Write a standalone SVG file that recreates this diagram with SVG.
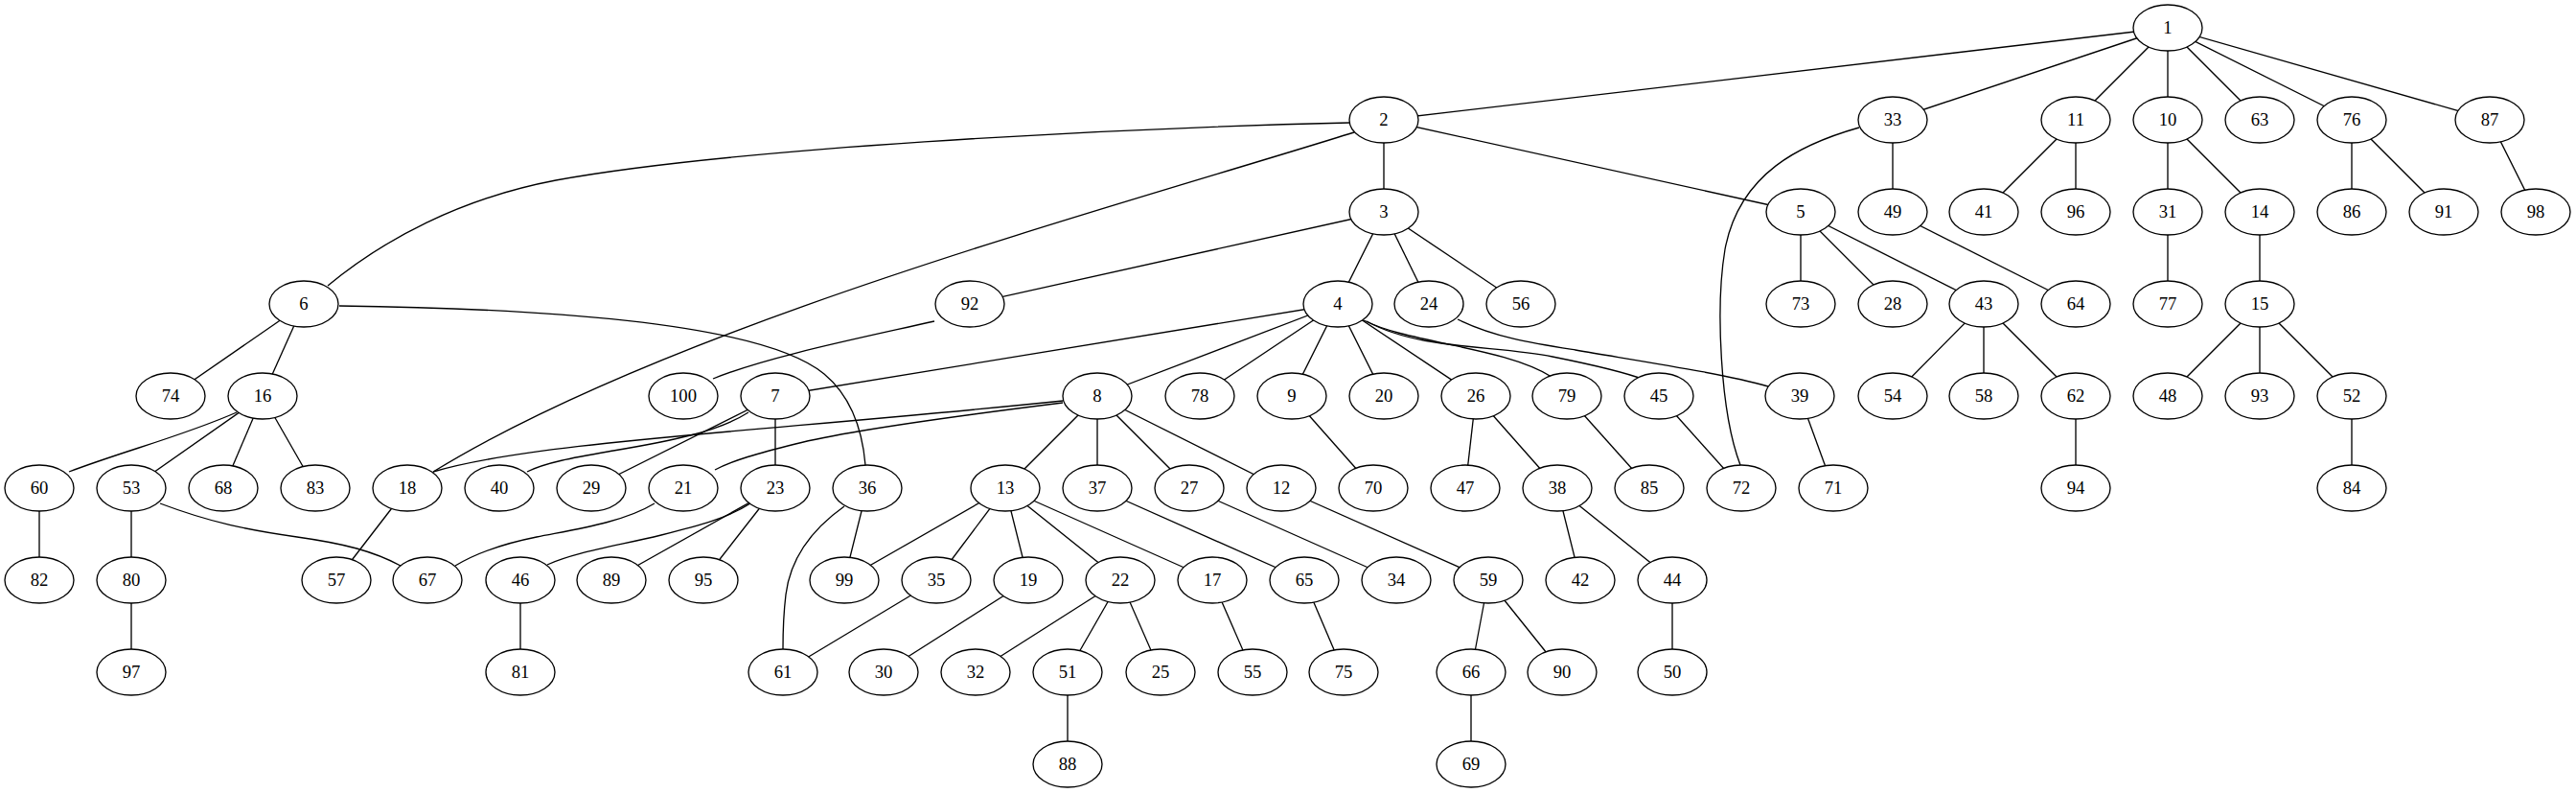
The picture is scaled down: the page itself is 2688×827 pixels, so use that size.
<svg xmlns="http://www.w3.org/2000/svg" width="2688" height="827" viewBox="0 0 2688 827">
<style>
.e path, .e line { fill: none; stroke: #000; stroke-width: 1.33; }
.n ellipse { fill: #fff; stroke: #000; stroke-width: 1.33; }
.n text { font-family: "Liberation Serif", "Times New Roman", serif; font-size: 18.67px; text-anchor: middle; fill: #000; }
</style>
<rect width="2688" height="827" fill="#fff"/>
<g id="edges" class="e">
<line x1="2262" y1="29" x2="1444" y2="125"/>
<line x1="2262" y1="29" x2="1975" y2="125"/>
<line x1="2262" y1="29" x2="2166" y2="125"/>
<line x1="2262" y1="29" x2="2262" y2="125"/>
<line x1="2262" y1="29" x2="2358" y2="125"/>
<line x1="2262" y1="29" x2="2454" y2="125"/>
<line x1="2262" y1="29" x2="2598" y2="125"/>
<line x1="1444" y1="125" x2="1444" y2="221"/>
<line x1="1444" y1="125" x2="1879" y2="221"/>
<path d="M1408,128 C1150,134 760,155 580,188 C480,207 400,250 342,298"/>
<path d="M1413,138 C1150,220 700,340 452,492"/>
<line x1="1444" y1="221" x2="1012" y2="317"/>
<line x1="1444" y1="221" x2="1396" y2="317"/>
<line x1="1444" y1="221" x2="1491" y2="317"/>
<line x1="1444" y1="221" x2="1587" y2="317"/>
<line x1="1396" y1="317" x2="809" y2="413"/>
<line x1="1396" y1="317" x2="1145" y2="413"/>
<line x1="1396" y1="317" x2="1252" y2="413"/>
<line x1="1396" y1="317" x2="1348" y2="413"/>
<line x1="1396" y1="317" x2="1444" y2="413"/>
<line x1="1396" y1="317" x2="1540" y2="413"/>
<path d="M1423,334 C1470,358 1570,362 1619,393"/>
<path d="M1426,335 C1480,365 1560,360 1620,372 C1670,382 1700,390 1716,396"/>
<line x1="1879" y1="221" x2="1879" y2="317"/>
<line x1="1879" y1="221" x2="1975" y2="317"/>
<line x1="1879" y1="221" x2="2070" y2="317"/>
<line x1="317" y1="317" x2="178" y2="413"/>
<line x1="317" y1="317" x2="274" y2="413"/>
<path d="M354,319 C600,322 800,340 860,390 C890,415 900,450 903,485"/>
<path d="M781,430 C750,450 700,460 640,470 C600,477 570,482 550,492"/>
<line x1="809" y1="413" x2="617" y2="509"/>
<line x1="809" y1="413" x2="809" y2="509"/>
<path d="M1109,418 C800,450 560,460 452,492"/>
<path d="M1109,420 C980,436 880,450 830,463 C790,473 765,480 746,490"/>
<line x1="1145" y1="413" x2="1049" y2="509"/>
<line x1="1145" y1="413" x2="1145" y2="509"/>
<line x1="1145" y1="413" x2="1241" y2="509"/>
<line x1="1145" y1="413" x2="1337" y2="509"/>
<line x1="1348" y1="413" x2="1433" y2="509"/>
<line x1="2262" y1="125" x2="2262" y2="221"/>
<line x1="2262" y1="125" x2="2358" y2="221"/>
<line x1="2166" y1="125" x2="2070" y2="221"/>
<line x1="2166" y1="125" x2="2166" y2="221"/>
<line x1="1049" y1="509" x2="881" y2="605"/>
<line x1="1049" y1="509" x2="977" y2="605"/>
<line x1="1049" y1="509" x2="1073" y2="605"/>
<line x1="1049" y1="509" x2="1169" y2="605"/>
<line x1="1049" y1="509" x2="1265" y2="605"/>
<line x1="2358" y1="221" x2="2358" y2="317"/>
<line x1="2358" y1="317" x2="2262" y2="413"/>
<line x1="2358" y1="317" x2="2358" y2="413"/>
<line x1="2358" y1="317" x2="2454" y2="413"/>
<path d="M247,430 C190,455 130,470 72,492"/>
<line x1="274" y1="413" x2="137" y2="509"/>
<line x1="274" y1="413" x2="233" y2="509"/>
<line x1="274" y1="413" x2="329" y2="509"/>
<line x1="1265" y1="605" x2="1307" y2="701"/>
<line x1="425" y1="509" x2="351" y2="605"/>
<line x1="1073" y1="605" x2="922" y2="701"/>
<path d="M683,525 C650,545 600,552 560,560 C520,568 495,578 475,590"/>
<line x1="1169" y1="605" x2="1018" y2="701"/>
<line x1="1169" y1="605" x2="1114" y2="701"/>
<line x1="1169" y1="605" x2="1211" y2="701"/>
<path d="M783,525 C760,540 730,548 690,558 C640,570 600,576 571,589"/>
<line x1="809" y1="509" x2="638" y2="605"/>
<line x1="809" y1="509" x2="734" y2="605"/>
<path d="M1521,333 C1560,352 1600,358 1644,365 C1720,378 1800,390 1845,403"/>
<line x1="1540" y1="413" x2="1529" y2="509"/>
<line x1="1540" y1="413" x2="1625" y2="509"/>
<line x1="1241" y1="509" x2="1457" y2="605"/>
<line x1="2262" y1="221" x2="2262" y2="317"/>
<path d="M1940,133 C1880,150 1815,180 1800,260 C1790,320 1795,430 1816,485"/>
<line x1="1975" y1="125" x2="1975" y2="221"/>
<line x1="977" y1="605" x2="817" y2="701"/>
<line x1="905" y1="509" x2="881" y2="605"/>
<path d="M881,528 C850,550 825,580 820,620 C817,645 817,660 817,677"/>
<line x1="1145" y1="509" x2="1361" y2="605"/>
<line x1="1625" y1="509" x2="1649" y2="605"/>
<line x1="1625" y1="509" x2="1745" y2="605"/>
<line x1="1878" y1="413" x2="1913" y2="509"/>
<line x1="2070" y1="317" x2="1975" y2="413"/>
<line x1="2070" y1="317" x2="2070" y2="413"/>
<line x1="2070" y1="317" x2="2166" y2="413"/>
<line x1="1745" y1="605" x2="1745" y2="701"/>
<line x1="1731" y1="413" x2="1817" y2="509"/>
<line x1="543" y1="605" x2="543" y2="701"/>
<line x1="1975" y1="221" x2="2166" y2="317"/>
<line x1="1114" y1="701" x2="1114" y2="797"/>
<line x1="2454" y1="413" x2="2454" y2="509"/>
<line x1="137" y1="509" x2="137" y2="605"/>
<path d="M167,525 C220,545 260,553 310,560 C360,567 390,575 418,590"/>
<line x1="1553" y1="605" x2="1535" y2="701"/>
<line x1="1553" y1="605" x2="1630" y2="701"/>
<line x1="41" y1="509" x2="41" y2="605"/>
<line x1="2166" y1="413" x2="2166" y2="509"/>
<line x1="1361" y1="605" x2="1402" y2="701"/>
<line x1="1535" y1="701" x2="1535" y2="797"/>
<line x1="2454" y1="125" x2="2454" y2="221"/>
<line x1="2454" y1="125" x2="2550" y2="221"/>
<line x1="1635" y1="413" x2="1721" y2="509"/>
<line x1="137" y1="605" x2="137" y2="701"/>
<line x1="2598" y1="125" x2="2646" y2="221"/>
<path d="M975,335 C900,352 800,372 744,395"/>
<line x1="1337" y1="509" x2="1553" y2="605"/>
</g>
<g id="nodes" class="n">
<g id="n1"><ellipse cx="2262" cy="29" rx="36" ry="24"/><text x="2262" y="34.5">1</text></g>
<g id="n2"><ellipse cx="1444" cy="125" rx="36" ry="24"/><text x="1444" y="130.5">2</text></g>
<g id="n33"><ellipse cx="1975" cy="125" rx="36" ry="24"/><text x="1975" y="130.5">33</text></g>
<g id="n11"><ellipse cx="2166" cy="125" rx="36" ry="24"/><text x="2166" y="130.5">11</text></g>
<g id="n10"><ellipse cx="2262" cy="125" rx="36" ry="24"/><text x="2262" y="130.5">10</text></g>
<g id="n63"><ellipse cx="2358" cy="125" rx="36" ry="24"/><text x="2358" y="130.5">63</text></g>
<g id="n76"><ellipse cx="2454" cy="125" rx="36" ry="24"/><text x="2454" y="130.5">76</text></g>
<g id="n87"><ellipse cx="2598" cy="125" rx="36" ry="24"/><text x="2598" y="130.5">87</text></g>
<g id="n3"><ellipse cx="1444" cy="221" rx="36" ry="24"/><text x="1444" y="226.5">3</text></g>
<g id="n5"><ellipse cx="1879" cy="221" rx="36" ry="24"/><text x="1879" y="226.5">5</text></g>
<g id="n49"><ellipse cx="1975" cy="221" rx="36" ry="24"/><text x="1975" y="226.5">49</text></g>
<g id="n41"><ellipse cx="2070" cy="221" rx="36" ry="24"/><text x="2070" y="226.5">41</text></g>
<g id="n96"><ellipse cx="2166" cy="221" rx="36" ry="24"/><text x="2166" y="226.5">96</text></g>
<g id="n31"><ellipse cx="2262" cy="221" rx="36" ry="24"/><text x="2262" y="226.5">31</text></g>
<g id="n14"><ellipse cx="2358" cy="221" rx="36" ry="24"/><text x="2358" y="226.5">14</text></g>
<g id="n86"><ellipse cx="2454" cy="221" rx="36" ry="24"/><text x="2454" y="226.5">86</text></g>
<g id="n91"><ellipse cx="2550" cy="221" rx="36" ry="24"/><text x="2550" y="226.5">91</text></g>
<g id="n98"><ellipse cx="2646" cy="221" rx="36" ry="24"/><text x="2646" y="226.5">98</text></g>
<g id="n6"><ellipse cx="317" cy="317" rx="36" ry="24"/><text x="317" y="322.5">6</text></g>
<g id="n92"><ellipse cx="1012" cy="317" rx="36" ry="24"/><text x="1012" y="322.5">92</text></g>
<g id="n4"><ellipse cx="1396" cy="317" rx="36" ry="24"/><text x="1396" y="322.5">4</text></g>
<g id="n24"><ellipse cx="1491" cy="317" rx="36" ry="24"/><text x="1491" y="322.5">24</text></g>
<g id="n56"><ellipse cx="1587" cy="317" rx="36" ry="24"/><text x="1587" y="322.5">56</text></g>
<g id="n73"><ellipse cx="1879" cy="317" rx="36" ry="24"/><text x="1879" y="322.5">73</text></g>
<g id="n28"><ellipse cx="1975" cy="317" rx="36" ry="24"/><text x="1975" y="322.5">28</text></g>
<g id="n43"><ellipse cx="2070" cy="317" rx="36" ry="24"/><text x="2070" y="322.5">43</text></g>
<g id="n64"><ellipse cx="2166" cy="317" rx="36" ry="24"/><text x="2166" y="322.5">64</text></g>
<g id="n77"><ellipse cx="2262" cy="317" rx="36" ry="24"/><text x="2262" y="322.5">77</text></g>
<g id="n15"><ellipse cx="2358" cy="317" rx="36" ry="24"/><text x="2358" y="322.5">15</text></g>
<g id="n74"><ellipse cx="178" cy="413" rx="36" ry="24"/><text x="178" y="418.5">74</text></g>
<g id="n16"><ellipse cx="274" cy="413" rx="36" ry="24"/><text x="274" y="418.5">16</text></g>
<g id="n100"><ellipse cx="713" cy="413" rx="36" ry="24"/><text x="713" y="418.5">100</text></g>
<g id="n7"><ellipse cx="809" cy="413" rx="36" ry="24"/><text x="809" y="418.5">7</text></g>
<g id="n8"><ellipse cx="1145" cy="413" rx="36" ry="24"/><text x="1145" y="418.5">8</text></g>
<g id="n78"><ellipse cx="1252" cy="413" rx="36" ry="24"/><text x="1252" y="418.5">78</text></g>
<g id="n9"><ellipse cx="1348" cy="413" rx="36" ry="24"/><text x="1348" y="418.5">9</text></g>
<g id="n20"><ellipse cx="1444" cy="413" rx="36" ry="24"/><text x="1444" y="418.5">20</text></g>
<g id="n26"><ellipse cx="1540" cy="413" rx="36" ry="24"/><text x="1540" y="418.5">26</text></g>
<g id="n79"><ellipse cx="1635" cy="413" rx="36" ry="24"/><text x="1635" y="418.5">79</text></g>
<g id="n45"><ellipse cx="1731" cy="413" rx="36" ry="24"/><text x="1731" y="418.5">45</text></g>
<g id="n39"><ellipse cx="1878" cy="413" rx="36" ry="24"/><text x="1878" y="418.5">39</text></g>
<g id="n54"><ellipse cx="1975" cy="413" rx="36" ry="24"/><text x="1975" y="418.5">54</text></g>
<g id="n58"><ellipse cx="2070" cy="413" rx="36" ry="24"/><text x="2070" y="418.5">58</text></g>
<g id="n62"><ellipse cx="2166" cy="413" rx="36" ry="24"/><text x="2166" y="418.5">62</text></g>
<g id="n48"><ellipse cx="2262" cy="413" rx="36" ry="24"/><text x="2262" y="418.5">48</text></g>
<g id="n93"><ellipse cx="2358" cy="413" rx="36" ry="24"/><text x="2358" y="418.5">93</text></g>
<g id="n52"><ellipse cx="2454" cy="413" rx="36" ry="24"/><text x="2454" y="418.5">52</text></g>
<g id="n60"><ellipse cx="41" cy="509" rx="36" ry="24"/><text x="41" y="514.5">60</text></g>
<g id="n53"><ellipse cx="137" cy="509" rx="36" ry="24"/><text x="137" y="514.5">53</text></g>
<g id="n68"><ellipse cx="233" cy="509" rx="36" ry="24"/><text x="233" y="514.5">68</text></g>
<g id="n83"><ellipse cx="329" cy="509" rx="36" ry="24"/><text x="329" y="514.5">83</text></g>
<g id="n18"><ellipse cx="425" cy="509" rx="36" ry="24"/><text x="425" y="514.5">18</text></g>
<g id="n40"><ellipse cx="521" cy="509" rx="36" ry="24"/><text x="521" y="514.5">40</text></g>
<g id="n29"><ellipse cx="617" cy="509" rx="36" ry="24"/><text x="617" y="514.5">29</text></g>
<g id="n21"><ellipse cx="713" cy="509" rx="36" ry="24"/><text x="713" y="514.5">21</text></g>
<g id="n23"><ellipse cx="809" cy="509" rx="36" ry="24"/><text x="809" y="514.5">23</text></g>
<g id="n36"><ellipse cx="905" cy="509" rx="36" ry="24"/><text x="905" y="514.5">36</text></g>
<g id="n13"><ellipse cx="1049" cy="509" rx="36" ry="24"/><text x="1049" y="514.5">13</text></g>
<g id="n37"><ellipse cx="1145" cy="509" rx="36" ry="24"/><text x="1145" y="514.5">37</text></g>
<g id="n27"><ellipse cx="1241" cy="509" rx="36" ry="24"/><text x="1241" y="514.5">27</text></g>
<g id="n12"><ellipse cx="1337" cy="509" rx="36" ry="24"/><text x="1337" y="514.5">12</text></g>
<g id="n70"><ellipse cx="1433" cy="509" rx="36" ry="24"/><text x="1433" y="514.5">70</text></g>
<g id="n47"><ellipse cx="1529" cy="509" rx="36" ry="24"/><text x="1529" y="514.5">47</text></g>
<g id="n38"><ellipse cx="1625" cy="509" rx="36" ry="24"/><text x="1625" y="514.5">38</text></g>
<g id="n85"><ellipse cx="1721" cy="509" rx="36" ry="24"/><text x="1721" y="514.5">85</text></g>
<g id="n72"><ellipse cx="1817" cy="509" rx="36" ry="24"/><text x="1817" y="514.5">72</text></g>
<g id="n71"><ellipse cx="1913" cy="509" rx="36" ry="24"/><text x="1913" y="514.5">71</text></g>
<g id="n94"><ellipse cx="2166" cy="509" rx="36" ry="24"/><text x="2166" y="514.5">94</text></g>
<g id="n84"><ellipse cx="2454" cy="509" rx="36" ry="24"/><text x="2454" y="514.5">84</text></g>
<g id="n82"><ellipse cx="41" cy="605" rx="36" ry="24"/><text x="41" y="610.5">82</text></g>
<g id="n80"><ellipse cx="137" cy="605" rx="36" ry="24"/><text x="137" y="610.5">80</text></g>
<g id="n57"><ellipse cx="351" cy="605" rx="36" ry="24"/><text x="351" y="610.5">57</text></g>
<g id="n67"><ellipse cx="446" cy="605" rx="36" ry="24"/><text x="446" y="610.5">67</text></g>
<g id="n46"><ellipse cx="543" cy="605" rx="36" ry="24"/><text x="543" y="610.5">46</text></g>
<g id="n89"><ellipse cx="638" cy="605" rx="36" ry="24"/><text x="638" y="610.5">89</text></g>
<g id="n95"><ellipse cx="734" cy="605" rx="36" ry="24"/><text x="734" y="610.5">95</text></g>
<g id="n99"><ellipse cx="881" cy="605" rx="36" ry="24"/><text x="881" y="610.5">99</text></g>
<g id="n35"><ellipse cx="977" cy="605" rx="36" ry="24"/><text x="977" y="610.5">35</text></g>
<g id="n19"><ellipse cx="1073" cy="605" rx="36" ry="24"/><text x="1073" y="610.5">19</text></g>
<g id="n22"><ellipse cx="1169" cy="605" rx="36" ry="24"/><text x="1169" y="610.5">22</text></g>
<g id="n17"><ellipse cx="1265" cy="605" rx="36" ry="24"/><text x="1265" y="610.5">17</text></g>
<g id="n65"><ellipse cx="1361" cy="605" rx="36" ry="24"/><text x="1361" y="610.5">65</text></g>
<g id="n34"><ellipse cx="1457" cy="605" rx="36" ry="24"/><text x="1457" y="610.5">34</text></g>
<g id="n59"><ellipse cx="1553" cy="605" rx="36" ry="24"/><text x="1553" y="610.5">59</text></g>
<g id="n42"><ellipse cx="1649" cy="605" rx="36" ry="24"/><text x="1649" y="610.5">42</text></g>
<g id="n44"><ellipse cx="1745" cy="605" rx="36" ry="24"/><text x="1745" y="610.5">44</text></g>
<g id="n97"><ellipse cx="137" cy="701" rx="36" ry="24"/><text x="137" y="706.5">97</text></g>
<g id="n81"><ellipse cx="543" cy="701" rx="36" ry="24"/><text x="543" y="706.5">81</text></g>
<g id="n61"><ellipse cx="817" cy="701" rx="36" ry="24"/><text x="817" y="706.5">61</text></g>
<g id="n30"><ellipse cx="922" cy="701" rx="36" ry="24"/><text x="922" y="706.5">30</text></g>
<g id="n32"><ellipse cx="1018" cy="701" rx="36" ry="24"/><text x="1018" y="706.5">32</text></g>
<g id="n51"><ellipse cx="1114" cy="701" rx="36" ry="24"/><text x="1114" y="706.5">51</text></g>
<g id="n25"><ellipse cx="1211" cy="701" rx="36" ry="24"/><text x="1211" y="706.5">25</text></g>
<g id="n55"><ellipse cx="1307" cy="701" rx="36" ry="24"/><text x="1307" y="706.5">55</text></g>
<g id="n75"><ellipse cx="1402" cy="701" rx="36" ry="24"/><text x="1402" y="706.5">75</text></g>
<g id="n66"><ellipse cx="1535" cy="701" rx="36" ry="24"/><text x="1535" y="706.5">66</text></g>
<g id="n90"><ellipse cx="1630" cy="701" rx="36" ry="24"/><text x="1630" y="706.5">90</text></g>
<g id="n50"><ellipse cx="1745" cy="701" rx="36" ry="24"/><text x="1745" y="706.5">50</text></g>
<g id="n88"><ellipse cx="1114" cy="797" rx="36" ry="24"/><text x="1114" y="802.5">88</text></g>
<g id="n69"><ellipse cx="1535" cy="797" rx="36" ry="24"/><text x="1535" y="802.5">69</text></g>
</g>
</svg>
